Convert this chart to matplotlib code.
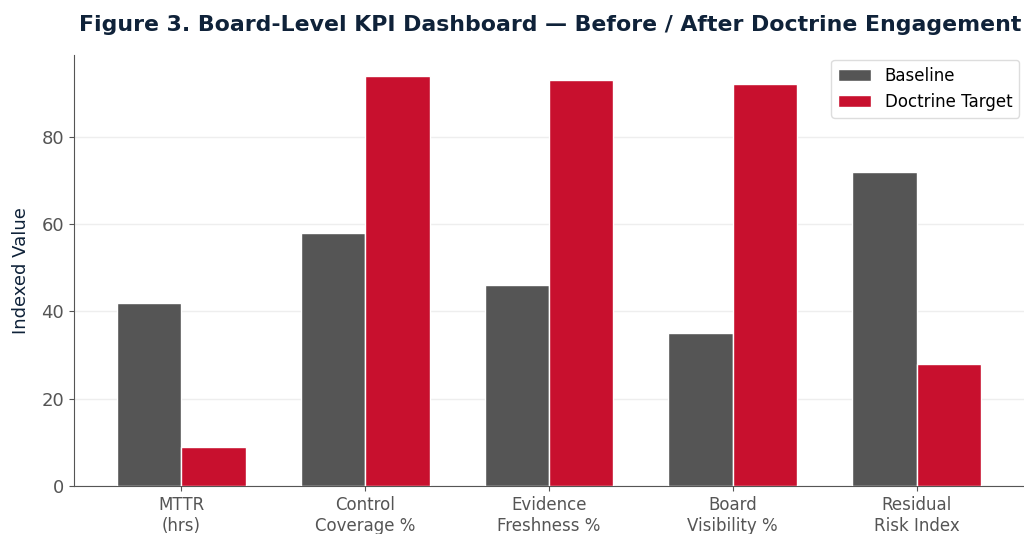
import matplotlib
matplotlib.use("Agg")
import matplotlib.pyplot as plt
import numpy as np

categories = ["MTTR\n(hrs)", "Control\nCoverage %", "Evidence\nFreshness %", "Board\nVisibility %", "Residual\nRisk Index"]
baseline = [42, 58, 46, 35, 72]
target = [9, 94, 93, 92, 28]

fig = plt.figure(figsize=(10.24, 5.34), dpi=100)
ax = fig.add_axes([74/1024, 48/534, 950/1024, 431/534])

x = np.arange(len(categories))
w = 0.35
ax.bar(x - w/2, baseline, w, color="#555555", edgecolor="white", linewidth=1, label="Baseline", zorder=3)
ax.bar(x + w/2, target, w, color="#c8102e", edgecolor="white", linewidth=1, label="Doctrine Target", zorder=3)

ax.set_xticks(x)
ax.set_xticklabels(categories, fontsize=12, color="#555555")
ax.tick_params(axis="y", labelsize=13, colors="#555555")
ax.tick_params(axis="x", colors="#555555")
ax.set_ylabel("Indexed Value", fontsize=13, color="#0f2239", labelpad=8)
ax.set_yticks([0, 20, 40, 60, 80])
ax.grid(axis="y", color="#eeeeee", linewidth=1, zorder=0)
ax.set_axisbelow(True)
for s in ["top", "right"]:
    ax.spines[s].set_visible(False)
for s in ["left", "bottom"]:
    ax.spines[s].set_color("#555555")

ax.legend(loc="upper right", fontsize=12, framealpha=1, edgecolor="#dddddd", borderaxespad=0.3)
fig.text(550/1024, 1 - 25/534, "Figure 3. Board-Level KPI Dashboard — Before / After Doctrine Engagement",
         ha="center", va="center", fontsize=15.8, fontweight="bold", color="#0f2239")

fig.savefig("out.png", dpi=100)
